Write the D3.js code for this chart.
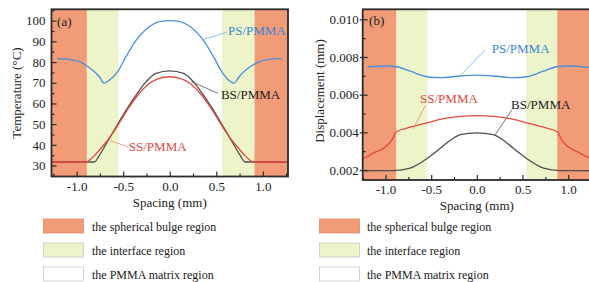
<!DOCTYPE html>
<html>
<head>
<meta charset="utf-8">
<script src="https://cdn.jsdelivr.net/npm/d3@7"></script>
<style>
  html, body { margin: 0; padding: 0; background: #fff; }
  svg { display: block; font-family: "Liberation Serif", "Times New Roman", serif; }
</style>
</head>
<body>
<svg id="chart" width="589" height="282"></svg>
<script>
// ---- data ----
// (a) temperature vs spacing
const PS_T_X = [-1.21, -1.08, -0.93, -0.83, -0.755, -0.705, -0.65, -0.56, -0.47, -0.36, -0.22, -0.08, 0, 0.08, 0.22, 0.36, 0.47, 0.56, 0.64, 0.69, 0.745, 0.83, 0.93, 1.08, 1.21];
const PS_T_Y = [81.7, 81.3, 79.3, 76.1, 72.9, 69.8, 71.2, 75.3, 82.6, 90.6, 97.1, 99.8, 100, 99.8, 97.1, 90.6, 82.6, 75.3, 71.0, 69.8, 72.9, 76.6, 79.5, 81.4, 81.7];

const SS_T_X = [-1.27, -0.9, -0.85, -0.8, -0.72, -0.612, -0.523, -0.434, -0.327, -0.22, -0.112, 0, 0.112, 0.22, 0.327, 0.434, 0.523, 0.612, 0.72, 0.8, 0.85, 0.9, 1.27];
const SS_T_Y = [31.7, 31.7, 33.0, 35.2, 39.3, 45.6, 51.9, 58.3, 64.8, 69.6, 72.1, 72.9, 72.1, 69.6, 64.8, 58.3, 51.9, 45.6, 39.3, 35.2, 33.0, 31.7, 31.7];

const BS_T_X = [-1.27, -0.81, -0.755, -0.666, -0.577, -0.47, -0.362, -0.255, -0.148, 0, 0.148, 0.255, 0.362, 0.47, 0.577, 0.666, 0.755, 0.81, 1.27];
const BS_T_Y = [31.7, 31.7, 35.0, 41.8, 48.6, 56.7, 64.0, 70.4, 74.5, 75.7, 74.5, 70.4, 64.0, 56.7, 48.6, 41.8, 35.0, 31.7, 31.7];

// (b) displacement vs spacing
const PS_D_X = [-1.2, -0.985, -0.876, -0.73, -0.547, -0.4, -0.18, 0, 0.18, 0.4, 0.547, 0.73, 0.876, 0.985, 1.25];
const PS_D_Y = [0.00748, 0.00752, 0.00748, 0.00725, 0.00695, 0.0069, 0.00699, 0.00704, 0.00699, 0.0069, 0.00695, 0.00725, 0.00748, 0.00752, 0.00744];

const SS_D_X = [-1.25, -1.13, -0.985, -0.93, -0.883, -0.73, -0.547, -0.365, -0.18, 0, 0.18, 0.365, 0.547, 0.73, 0.883, 0.93, 0.985, 1.13, 1.25];
const SS_D_Y = [0.0026, 0.0029, 0.00329, 0.0036, 0.00402, 0.00427, 0.0045, 0.00473, 0.00485, 0.00489, 0.00485, 0.00473, 0.0045, 0.00427, 0.00402, 0.0036, 0.00329, 0.0029, 0.0026];

const BS_D_X = [-1.25, -0.91, -0.73, -0.547, -0.44, -0.33, -0.18, 0, 0.18, 0.33, 0.44, 0.547, 0.73, 0.91, 1.25];
const BS_D_Y = [0.00196, 0.00197, 0.0021, 0.0026, 0.003, 0.00343, 0.00388, 0.00397, 0.00388, 0.00343, 0.003, 0.0026, 0.0021, 0.00197, 0.00196];

// region bands [from, to, kind]
const BANDS_A = [[-1.27, -0.89, "bulge"], [-0.89, -0.55, "interface"], [0.56, 0.91, "interface"], [0.91, 1.27, "bulge"]];
const BANDS_B = [[-1.25, -0.88, "bulge"], [-0.88, -0.54, "interface"], [0.54, 0.88, "interface"], [0.88, 1.25, "bulge"]];

const X_TICKS = [-1, -0.5, 0, 0.5, 1];
const X_MINOR = [-1.25, -0.75, -0.25, 0.25, 0.75, 1.25];
const T_TICKS = [30, 40, 50, 60, 70, 80, 90, 100];
const T_MINOR = [25, 35, 45, 55, 65, 75, 85, 95, 105];
const D_TICKS = [0.002, 0.004, 0.006, 0.008, 0.010];
const D_MINOR = [0.003, 0.005, 0.007, 0.009];

const LEGEND = [
  { kind: "bulge", label: "the spherical bulge region" },
  { kind: "interface", label: "the interface region" },
  { kind: "matrix", label: "the PMMA matrix region" },
];

const COLORS = {
  bulge: "#f19b77",
  interface: "#eef4c9",
  matrix: "#ffffff",
  PS: "#4a8fdc",
  SS: "#e8473e",
  BS: "#4d4d4d",
  frame: "#2b2b2b",
};

const svg = d3.select("#chart");

function zip(xs, ys) { return xs.map((x, i) => [x, ys[i]]); }

function drawPanel(opt) {
  const { x, y, id } = opt;
  const [x0, x1] = x.range();
  const [yb, yt] = y.range();
  const g = svg.append("g");

  g.append("defs").append("clipPath").attr("id", "clip" + id)
    .append("rect").attr("x", x0).attr("y", yt).attr("width", x1 - x0).attr("height", yb - yt);

  const plot = g.append("g").attr("clip-path", `url(#clip${id})`);

  plot.selectAll("rect.band").data(opt.bands).join("rect")
    .attr("class", "band")
    .attr("x", d => x(d[0]))
    .attr("width", d => x(d[1]) - x(d[0]))
    .attr("y", yt).attr("height", yb - yt)
    .attr("fill", d => COLORS[d[2]]);

  const line = d3.line().x(d => x(d[0])).y(d => y(d[1])).curve(d3.curveMonotoneX);
  opt.series.forEach(s => {
    plot.append("path")
      .attr("d", line(zip(s.xs, s.ys)))
      .attr("fill", "none")
      .attr("stroke", COLORS[s.key])
      .attr("stroke-width", 1.3);
  });

  // axes
  g.append("g").attr("transform", `translate(0,${yb})`)
    .call(d3.axisBottom(x).tickValues(X_TICKS).tickSizeInner(-5).tickSizeOuter(0).tickPadding(5)
      .tickFormat(d => d.toFixed(1)));
  g.append("g").attr("transform", `translate(0,${yb})`)
    .call(d3.axisBottom(x).tickValues(X_MINOR).tickSizeInner(-3).tickSizeOuter(0).tickFormat(""));

  g.append("g").attr("transform", `translate(${x0},0)`)
    .call(d3.axisLeft(y).tickValues(opt.yTicks).tickSizeInner(-5).tickSizeOuter(0).tickPadding(opt.yPad)
      .tickFormat(opt.yFormat));
  g.append("g").attr("transform", `translate(${x0},0)`)
    .call(d3.axisLeft(y).tickValues(opt.yMinor).tickSizeInner(-3).tickSizeOuter(0).tickFormat(""));
  if (opt.outTicks) {
    g.append("g").attr("transform", `translate(${x0},0)`)
      .call(d3.axisLeft(y).tickValues(opt.yTicks).tickSizeInner(3).tickSizeOuter(0).tickFormat(""));
  }

  g.selectAll(".domain").remove();
  g.selectAll(".tick line").attr("stroke", COLORS.frame).attr("stroke-width", 1.2);
  g.selectAll(".tick text").attr("font-size", 13).attr("fill", "#222")
    .attr("font-family", '"Liberation Serif", serif');

  g.append("rect")
    .attr("x", x0).attr("y", yt).attr("width", x1 - x0).attr("height", yb - yt)
    .attr("fill", "none").attr("stroke", COLORS.frame).attr("stroke-width", 1.8);

  // titles
  g.append("text")
    .attr("x", (x0 + Math.min(x1, 589)) / 2 + opt.xTitleShift).attr("y", yb + 30)
    .attr("text-anchor", "middle").attr("font-size", 13).attr("fill", "#222")
    .text("Spacing (mm)");
  g.append("text")
    .attr("transform", `translate(${opt.yTitleX},${opt.yTitleY}) rotate(-90)`)
    .attr("text-anchor", "middle").attr("dy", "0.35em").attr("font-size", 13).attr("fill", "#222")
    .text(opt.yTitle);

  // panel letter
  g.append("text")
    .attr("x", x(opt.letter[0])).attr("y", y(opt.letter[1]))
    .attr("font-size", 13).attr("fill", "#222").text(opt.letter[2]);

  // series labels with leader lines
  opt.notes.forEach(n => {
    g.append("line")
      .attr("x1", x(n.from[0])).attr("y1", y(n.from[1]))
      .attr("x2", x(n.to[0])).attr("y2", y(n.to[1]))
      .attr("stroke", n.lineColor).attr("stroke-width", 0.8);
    g.append("text")
      .attr("x", x(n.at[0])).attr("y", y(n.at[1]))
      .attr("font-size", 13).attr("fill", n.color).text(n.text);
  });
}

// (a)
drawPanel({
  id: "a",
  x: d3.scaleLinear().domain([-1.27, 1.27]).range([51.5, 288]),
  y: d3.scaleLinear().domain([24.7, 105.5]).range([176.5, 9.3]),
  bands: BANDS_A,
  series: [
    { key: "PS", xs: PS_T_X, ys: PS_T_Y },
    { key: "BS", xs: BS_T_X, ys: BS_T_Y },
    { key: "SS", xs: SS_T_X, ys: SS_T_Y },
  ],
  yTicks: T_TICKS, yMinor: T_MINOR, yPad: 6, yFormat: d => d,
  yTitle: "Temperature (\u00B0C)", yTitleX: 16, yTitleY: 93, xTitleShift: 0,
  letter: [-1.21, 97.2, "(a)"],
  notes: [
    { text: "PS/PMMA", color: "#3a86d6", lineColor: "#6fb0e8", at: [0.625, 93.0], from: [0.343, 90.7], to: [0.612, 94.4] },
    { text: "BS/PMMA", color: "#222", lineColor: "#555", at: [0.55, 62.2], from: [0.236, 70.5], to: [0.518, 64.9] },
    { text: "SS/PMMA", color: "#e0463e", lineColor: "#e98a7a", at: [-0.44, 37.0], from: [-0.64, 42.0], to: [-0.445, 39.0] },
  ],
});

// (b)
drawPanel({
  id: "b",
  x: d3.scaleLinear().domain([-1.25, 1.25]).range([362.7, 591]),
  y: d3.scaleLinear().domain([0.00147, 0.01053]).range([180, 9.3]),
  bands: BANDS_B,
  series: [
    { key: "PS", xs: PS_D_X, ys: PS_D_Y },
    { key: "BS", xs: BS_D_X, ys: BS_D_Y },
    { key: "SS", xs: SS_D_X, ys: SS_D_Y },
  ],
  yTicks: D_TICKS, yMinor: D_MINOR, yPad: 4, yFormat: d3.format(".3f"), outTicks: true,
  yTitle: "Displacement (mm)", yTitleX: 319, yTitleY: 91, xTitleShift: 1,
  letter: [-1.18, 0.0097, "(b)"],
  notes: [
    { text: "PS/PMMA", color: "#3a86d6", lineColor: "#6fb0e8", at: [0.163, 0.00821], from: [-0.2, 0.00692], to: [0.09, 0.00837] },
    { text: "SS/PMMA", color: "#e0463e", lineColor: "#d98a7a", at: [-0.622, 0.00556], from: [-0.695, 0.00421], to: [-0.567, 0.0054] },
    { text: "BS/PMMA", color: "#222", lineColor: "#555", at: [0.375, 0.00524], from: [0.2, 0.00386], to: [0.382, 0.00519] },
  ],
});

// legends
function drawLegend(bx, tx) {
  const rows = svg.append("g").selectAll("g").data(LEGEND).join("g")
    .attr("transform", (d, i) => `translate(0,${219 + i * 24})`);
  rows.append("rect")
    .attr("x", bx).attr("y", 0).attr("width", 40).attr("height", 14)
    .attr("fill", d => COLORS[d.kind])
    .attr("stroke", d => d.kind === "bulge" ? "#e08a6a" : "#c8c8c8").attr("stroke-width", 0.8);
  rows.append("text")
    .attr("x", tx).attr("y", 11.5)
    .attr("font-size", 12).attr("fill", "#222")
    .text(d => d.label);
}
drawLegend(43.5, 92);
drawLegend(319.5, 367);
</script>
</body>
</html>
